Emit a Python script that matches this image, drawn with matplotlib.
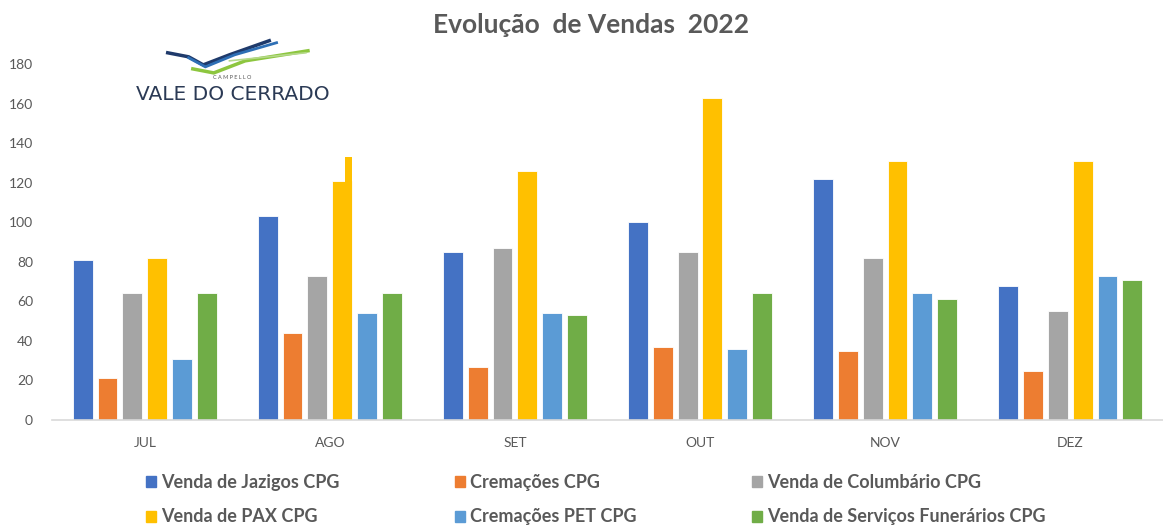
import numpy as np
import matplotlib
matplotlib.use('Agg')
import matplotlib.pyplot as plt
from matplotlib.patches import Patch

months = ['JUL', 'AGO', 'SET', 'OUT', 'NOV', 'DEZ']
series_names = ['Venda de Jazigos CPG', 'Cremações CPG', 'Venda de Columbário CPG',
                'Venda de PAX CPG', 'Cremações PET CPG', 'Venda de Serviços Funerários CPG']
jazigos = [81, 103, 85, 100, 122, 68]
cremacoes = [21, 44, 27, 37, 35, 25]
columbario = [64, 73, 87, 85, 82, 55]
pax = [82, 121, 126, 163, 131, 131]
cremacoes_pet = [31, 54, 54, 36, 64, 73]
servicos = [64, 64, 53, 64, 61, 71]
pax_ago_extra = 133  # the odd little step on top of the AGO yellow bar
colors = ['#4472C4', '#ED7D31', '#A5A5A5', '#FFC000', '#5B9BD5', '#70AD47']

plt.rcParams['font.family'] = ['Lato', 'DejaVu Sans']
txt = '#595959'

fig = plt.figure(figsize=(11.63, 5.27), dpi=100)
ax = fig.add_axes([0.0451, 0.203, 0.9545, 0.6755])

x = np.arange(len(months))
step = 0.135
width = 0.108
all_series = [jazigos, cremacoes, columbario, pax, cremacoes_pet, servicos]
for i, vals in enumerate(all_series):
    ax.bar(x + (i - 2.5) * step, vals, width, color=colors[i],
           edgecolor='white', linewidth=0.6, zorder=2)

# narrow extra piece on the AGO PAX bar
right_edge = 1 + 0.5 * step + width / 2
ax.bar(right_edge - 0.021, pax_ago_extra, 0.042, color=colors[3], linewidth=0, zorder=2)

ax.set_xlim(-0.5, 5.5)
ax.set_ylim(0, 180)
ax.set_yticks(range(0, 181, 20))
ax.set_xticks(x)
ax.set_xticklabels(months)
ax.tick_params(axis='both', length=0, labelsize=10, labelcolor=txt)
ax.tick_params(axis='x', pad=12)
ax.tick_params(axis='y', pad=14)
for s in ['top', 'right', 'left']:
    ax.spines[s].set_visible(False)
ax.spines['bottom'].set_color('#D9D9D9')
ax.spines['bottom'].set_linewidth(1.2)
ax.patch.set_alpha(0)

fig.text(0.508, 0.952, 'Evolução  de Vendas  2022', ha='center', va='center',
         fontsize=19, fontweight='bold', color=txt)

# legend, row-major order in 3 columns
order = [0, 3, 1, 4, 2, 5]
handles = [Patch(color=colors[k]) for k in order]
labels = [series_names[k] for k in order]
fig.legend(handles, labels, ncol=3, loc='upper left', bbox_to_anchor=(0.1257, 0.1006),
           frameon=False, labelcolor=txt, handlelength=0.55,
           handleheight=0.55, handletextpad=0.3, columnspacing=6.37,
           labelspacing=0.97, borderpad=0, borderaxespad=0,
           prop={'weight': 'bold', 'size': 13})

# logo in the top-left corner
lg = fig.add_axes([0.11, 0.77, 0.18, 0.21])
lg.set_xlim(0, 200)
lg.set_ylim(0, 110)
lg.axis('off')
lg.plot([38, 58, 72, 97, 135], [68, 64, 56, 66, 80], color='#1F3A6B', lw=2.5)
lg.plot([58, 74, 102, 142], [63, 54, 66, 78], color='#2E6FB5', lw=2)
lg.plot([62, 82, 112, 172], [52, 48, 60, 70], color='#8DC63F', lw=2.5)
lg.plot([97, 170], [60, 68], color='#B5D98A', lw=1.2)
lg.text(100, 43, 'C A M P E L L O', ha='center', va='center', fontsize=4, color='#555555')
lg.text(100, 27, 'VALE DO CERRADO', ha='center', va='center', fontsize=14.5,
        color='#2B3A55', family='DejaVu Sans')

fig.savefig('out.png', dpi=100)
